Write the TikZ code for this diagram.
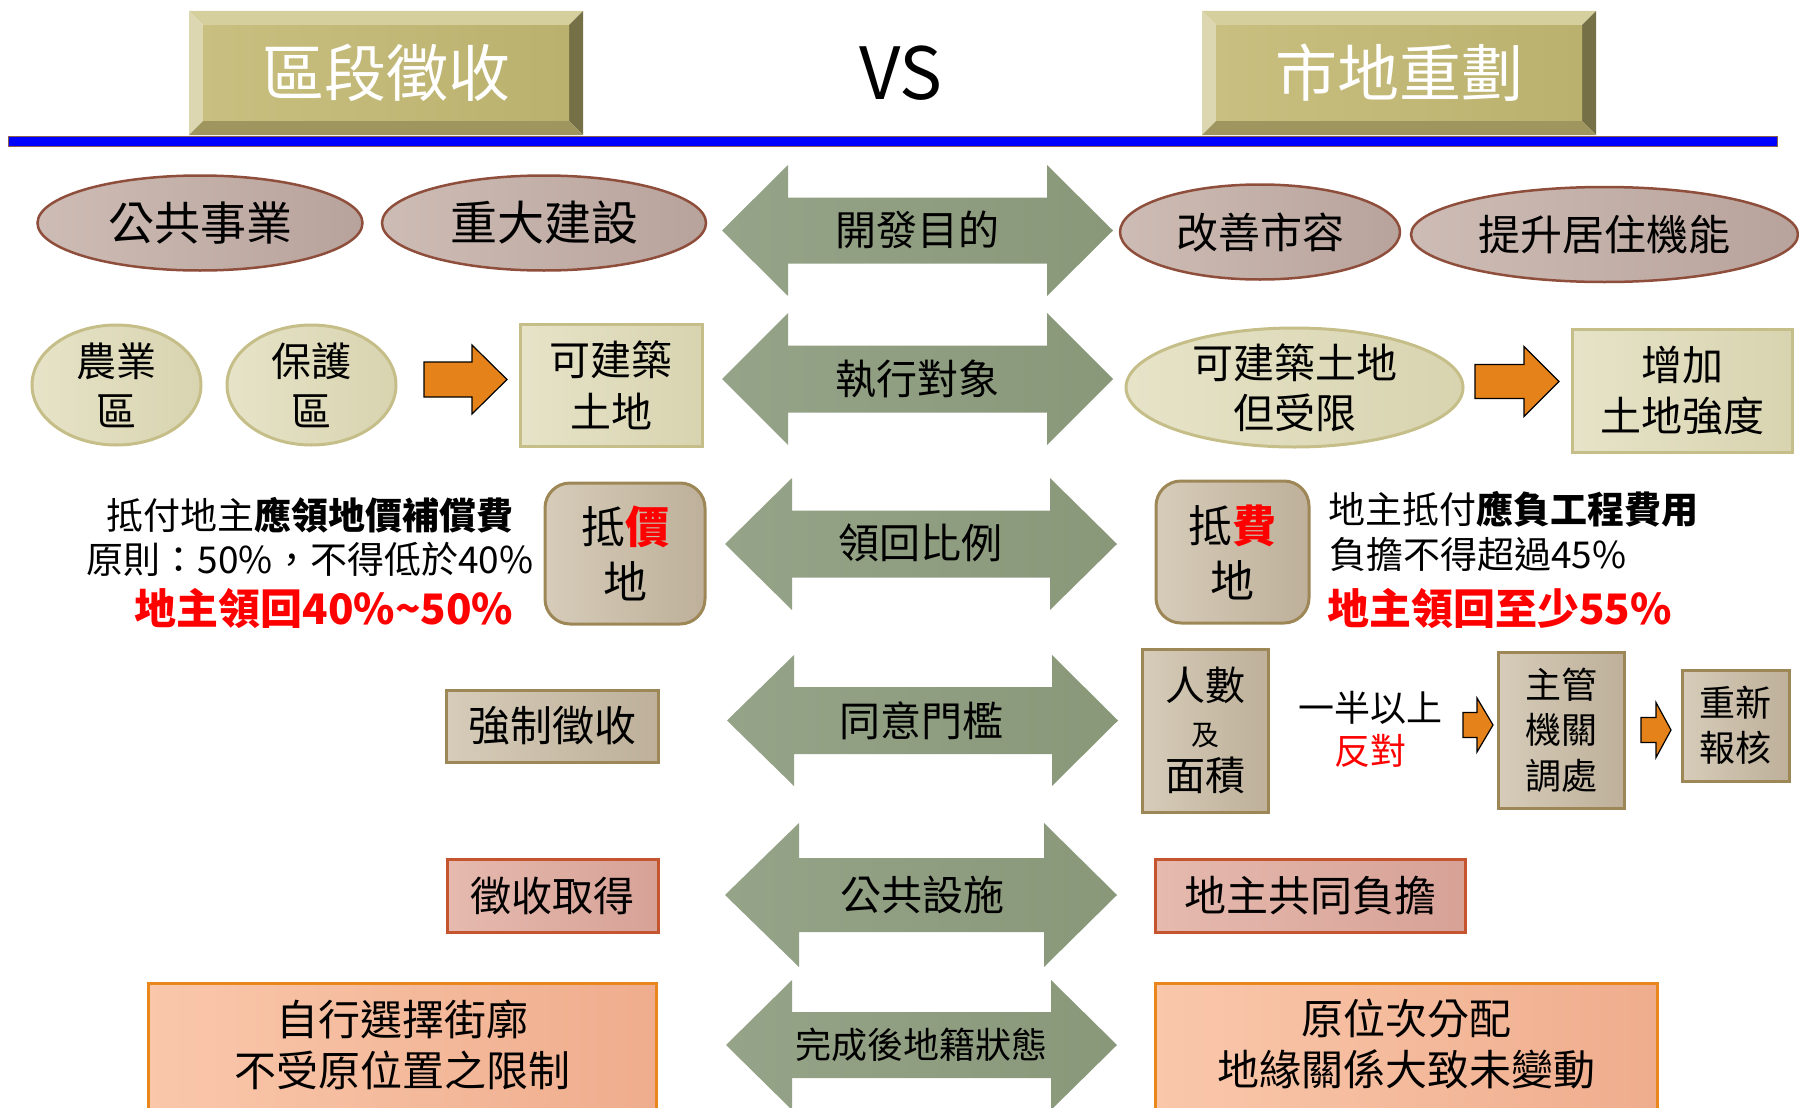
\documentclass[tikz,border=0pt]{standalone}
\usepackage{fontspec}
\setmainfont{Noto Sans CJK TC}
\usetikzlibrary{shapes.geometric}
\newcommand\fsz[2]{\fontsize{#1}{#2}\selectfont}
\definecolor{ellL}{HTML}{CDBCB5}
\definecolor{ellR}{HTML}{B8A39C}
\definecolor{ellB}{HTML}{8E4E3B}
\definecolor{crL}{HTML}{E6E3C8}
\definecolor{crR}{HTML}{D8D4B0}
\definecolor{crB}{HTML}{C6BE88}
\definecolor{tnL}{HTML}{D6CCB9}
\definecolor{tnR}{HTML}{BEB09A}
\definecolor{tnB}{HTML}{9E8757}
\definecolor{pkL}{HTML}{E6BAAF}
\definecolor{pkR}{HTML}{D7A196}
\definecolor{pkB}{HTML}{C5552E}
\definecolor{pcL}{HTML}{FAC7AB}
\definecolor{pcR}{HTML}{EFAD8D}
\definecolor{pcB}{HTML}{E9861C}
\definecolor{orA}{HTML}{E5821A}
\definecolor{grA}{HTML}{95A388}
\definecolor{grB}{HTML}{899879}
\definecolor{tfL}{HTML}{C8BF80}
\definecolor{tfR}{HTML}{BBB16E}
\definecolor{tbT}{HTML}{D5CE9D}
\definecolor{tbL}{HTML}{DCD7B1}
\definecolor{tbR}{HTML}{767047}
\definecolor{tbB}{HTML}{9E965E}
\definecolor{lnB}{HTML}{8B5E50}
\definecolor{redT}{HTML}{FF0000}
\tikzset{
 txt/.style={inner sep=0, outer sep=0, align=center, text=black},
 ellb/.style={ellipse, draw=ellB, line width=2.5, left color=ellL, right color=ellR, inner sep=-15pt, align=center},
 ellc/.style={ellipse, draw=crB, line width=3, left color=crL, right color=crR, inner sep=-15pt, align=center},
 boxc/.style={rectangle, draw=crB, line width=3, left color=crL, right color=crR, inner sep=0, align=center},
 boxt/.style={rectangle, draw=tnB, line width=3, left color=tnL, right color=tnR, inner sep=0, align=center},
 boxp/.style={rectangle, draw=pkB, line width=3, left color=pkL, right color=pkR, inner sep=0, align=center},
 boxo/.style={rectangle, draw=pcB, line width=3, left color=pcL, right color=pcR, inner sep=0, align=center},
 orarr/.style={fill=orA, draw=black, line width=1.2, line join=miter},
 titleface/.style={rectangle, inner sep=0, left color=tfL, right color=tfR, text=white, font=\fsz{62}{70}},
 dbl/.style={left color=grA, right color=grB},
}
% double block arrow: xl, xhl, xhr, xr, cy, half height, shaft half
\newcommand\dblarr[7]{%
 \shade[dbl] (#1,#5) -- (#2,#5-#6) -- (#2,#5-#7) -- (#3,#5-#7) -- (#3,#5-#6) -- (#4,#5)
   -- (#3,#5+#6) -- (#3,#5+#7) -- (#2,#5+#7) -- (#2,#5+#6) -- cycle;}
% bevel frame: x1 y1 x2 y2 b
\newcommand\bevelframe[5]{%
 \fill[tbT] (#1,#2) -- (#3,#2) -- (#3-#5,#2+#5) -- (#1+#5,#2+#5) -- cycle;
 \fill[tbL] (#1,#2) -- (#1+#5,#2+#5) -- (#1+#5,#4-#5) -- (#1,#4) -- cycle;
 \fill[tbR] (#3,#2) -- (#3,#4) -- (#3-#5,#4-#5) -- (#3-#5,#2+#5) -- cycle;
 \fill[tbB] (#1,#4) -- (#3,#4) -- (#3-#5,#4-#5) -- (#1+#5,#4-#5) -- cycle;}
% single block arrow: x0 xh xt cy shafthalf headhalf
\newcommand\blockarr[6]{%
 \draw[orarr] (#1,#4-#5) -- (#2,#4-#5) -- (#2,#4-#6) -- (#3,#4) -- (#2,#4+#6) -- (#2,#4+#5) -- (#1,#4+#5) -- cycle;}
\begin{document}
\begin{tikzpicture}[x=1pt,y=-1pt]
\useasboundingbox (0,0) rectangle (1799,1108);

% ---- header ----
\fill[blue, draw=lnB, line width=1] (8,136) rectangle (1777,146);
\bevelframe{189}{11}{583}{135}{15}
\node[titleface, minimum width=366, minimum height=94] (tl) at (386,73) {區段徵收};
\bevelframe{1202}{11}{1596}{135}{15}
\node[titleface, minimum width=366, minimum height=94] (tr) at (1399,73) {市地重劃};
\node[txt, font=\fsz{72}{80}] (vs) at (901,73) {VS};

% ---- central double arrows ----
\dblarr{722}{788}{1047}{1113}{230.5}{65.5}{33}
\node[txt, font=\fsz{41}{48}] (a1) at (917,230) {開發目的};
\dblarr{722}{788}{1047}{1113}{379}{66}{33.5}
\node[txt, font=\fsz{41}{48}] (a2) at (917,379) {執行對象};
\dblarr{725}{792}{1050}{1117}{544}{66}{33.5}
\node[txt, font=\fsz{41}{48}] (a3) at (920,543) {領回比例};
\dblarr{727}{794}{1052}{1118}{720.5}{65.5}{33.5}
\node[txt, font=\fsz{41}{48}] (a4) at (921,721) {同意門檻};
\dblarr{725}{799}{1044}{1117}{895}{72}{37}
\node[txt, font=\fsz{41}{48}] (a5) at (922,895) {公共設施};
\dblarr{726}{792}{1051}{1117}{1045}{65}{33}
\node[txt, font=\fsz{36}{44}] (a6) at (921,1045) {完成後地籍狀態};

% ---- row 1 ----
\node[ellb, minimum width=325, minimum height=95, font=\fsz{46}{52}] (e1) at (200,223) {公共事業};
\node[ellb, minimum width=324, minimum height=95, font=\fsz{47}{52}] (e2) at (544,223) {重大建設};
\node[ellb, minimum width=280, minimum height=95, font=\fsz{42}{52}] (e3) at (1260,232) {改善市容};
\node[ellb, minimum width=387, minimum height=95, font=\fsz{42}{52}] (e4) at (1604.5,234.5) {提升居住機能};

% ---- row 2 ----
\node[ellc, minimum width=169, minimum height=120, font=\fsz{40}{50}] (c1) at (116.5,385) {農業\\區};
\node[ellc, minimum width=169, minimum height=120, font=\fsz{40}{50}] (c2) at (311.5,385) {保護\\區};
\node[boxc, minimum width=182, minimum height=122, font=\fsz{41}{52}] (b1) at (611,385) {可建築\\土地};
\blockarr{424}{472}{507}{379.5}{17.5}{34.5}
\node[ellc, minimum width=337, minimum height=119, font=\fsz{41}{50}] (c3) at (1294.5,387.5) {可建築土地\\但受限};
\blockarr{1475}{1524}{1559}{381.5}{17}{35}
\node[boxc, minimum width=220, minimum height=123, font=\fsz{41}{51}] (b2) at (1682,390.5) {增加\\土地強度};

% ---- row 3 ----
\node[txt, font=\fsz{37}{44}] (lt1) at (310,515) {抵付地主\textbf{應領地價補償費}};
\node[txt, font=\fsz{37}{44}] (lt2) at (310,559) {原則：50\%，不得低於40\%};
\node[txt, font=\fsz{42}{50}\bfseries, text=redT] (lt3) at (324,608) {地主領回40\%\string~50\%};
\node[boxt, rounded corners=25, minimum width=160, minimum height=141, font=\fsz{44}{55}] (b3) at (625,553.5) {抵{\color{redT}\bfseries 價}\\地};
\node[boxt, rounded corners=25, minimum width=153, minimum height=142, font=\fsz{44}{55}] (b4) at (1232.5,552) {抵{\color{redT}\bfseries 費}\\地};
\node[txt, anchor=west, font=\fsz{37}{44}] (rt1) at (1328,509) {地主抵付\textbf{應負工程費用}};
\node[txt, anchor=west, font=\fsz{37}{44}] (rt2) at (1329,554) {負擔不得超過45\%};
\node[txt, anchor=west, font=\fsz{42}{50}\bfseries, text=redT] (rt3) at (1327,608) {地主領回至少55\%};

% ---- row 4 ----
\node[boxt, minimum width=212, minimum height=72, font=\fsz{42}{50}] (b5) at (552,726) {強制徵收};
\node[boxt, minimum width=126, minimum height=163, font=\fsz{40}{45}] (b6) at (1205,730.5) {人數\\{\fsz{28}{45}及}\\面積};
\node[txt, font=\fsz{36}{44}] (hf) at (1370,708) {一半以上};
\node[txt, font=\fsz{36}{44}, text=redT] (fd) at (1370,751) {反對};
\blockarr{1463}{1477}{1493}{725}{12.5}{27}
\node[boxt, minimum width=126, minimum height=156, font=\fsz{36}{45.5}] (b7) at (1561,730) {主管\\機關\\調處};
\blockarr{1641}{1656}{1671}{730}{12.5}{27.5}
\node[boxt, minimum width=107, minimum height=111, font=\fsz{36}{45}] (b8) at (1735.5,725.5) {重新\\報核};

% ---- row 5 ----
\node[boxp, minimum width=211, minimum height=73, font=\fsz{41}{50}] (b9) at (552.5,895.5) {徵收取得};
\node[boxp, minimum width=310, minimum height=73, font=\fsz{42}{50}] (b10) at (1310,895.5) {地主共同負擔};

% ---- row 6 ----
\node[boxo, minimum width=508, minimum height=135] (b11) at (402,1050.5) {};
\node[txt, font=\fsz{42}{51}] (t11) at (402,1044.5) {自行選擇街廓\\不受原位置之限制};
\node[boxo, minimum width=502, minimum height=135] (b12) at (1406,1050.5) {};
\node[txt, font=\fsz{42}{51}] (t12) at (1406,1044.5) {原位次分配\\地緣關係大致未變動};
\end{tikzpicture}
\end{document}
